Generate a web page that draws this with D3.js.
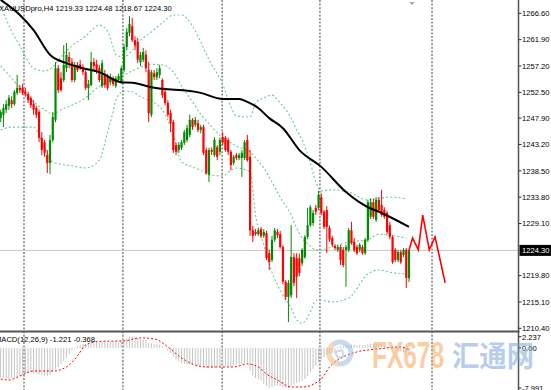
<!DOCTYPE html>
<html><head><meta charset="utf-8">
<script src="https://cdn.jsdelivr.net/npm/d3@7"></script>
<style>html,body{margin:0;padding:0;background:#fff;overflow:hidden}</style>
</head><body><svg id="c" width="551" height="390"></svg>
<script>
// ---------- DATA ----------
const titleText = "XAUUSDpro,H4  1219.33 1224.48 1218.67 1224.30";
const macdText = "MACD(12,26,9) -1.221 -0.368";
const open = [1247.9,1248.5,1249.4,1250.1,1251.1,1250.4,1252.4,1253.3,1253.3,1252.6,
 1252.2,1251.5,1250.4,1249.7,1249.0,1244.4,1243.6,1241.3,1239.9,1244.0,
 1247.6,1256.8,1255.0,1254.7,1256.8,1258.8,1257.9,1254.7,1257.4,1257.5,
 1256.8,1256.1,1253.3,1253.8,1257.9,1257.5,1256.8,1253.6,1255.6,1255.2,
 1254.3,1255.0,1253.6,1254.7,1254.3,1256.5,1260.6,1263.1,1264.3,1261.8,
 1261.5,1257.9,1258.3,1259.2,1256.5,1248.5,1255.9,1255.2,1255.6,1254.7,
 1252.6,1250.6,1248.8,1247.2,1243.1,1242.2,1242.6,1243.5,1244.0,1244.9,
 1247.6,1246.7,1247.0,1245.8,1246.3,1242.2,1237.8,1242.2,1241.3,1242.7,
 1241.9,1244.5,1244.4,1244.0,1241.9,1239.9,1241.3,1240.8,1240.8,1240.8,
 1244.0,1241.0,1227.9,1227.6,1227.2,1228.1,1226.9,1227.4,1223.8,1222.6,
 1226.2,1227.6,1227.2,1224.9,1218.7,1216.0,1216.3,1223.1,1222.9,1222.9,
 1222.0,1223.1,1226.7,1228.8,1229.2,1231.9,1231.9,1233.8,1231.2,1231.5,
 1228.3,1226.5,1225.1,1224.4,1224.9,1224.4,1224.4,1224.4,1227.9,1225.8,
 1224.9,1224.4,1224.9,1223.8,1226.2,1230.3,1232.9,1229.7,1233.3,1232.4,
 1231.5,1231.0,1228.8,1226.7,1224.4,1222.6,1224.0,1223.5,1224.4,1219.33];
const high = [1249.4,1250.4,1251.1,1252.0,1251.8,1252.9,1255.6,1253.8,1254.0,1253.3,
 1252.6,1251.8,1251.1,1250.1,1249.4,1245.4,1244.0,1242.2,1244.9,1249.0,
 1257.9,1257.4,1256.1,1260.9,1261.3,1259.7,1258.6,1257.9,1257.9,1258.3,
 1257.5,1256.5,1254.7,1259.7,1258.6,1258.3,1257.4,1258.3,1256.5,1255.8,
 1255.8,1255.4,1255.4,1255.8,1257.2,1261.1,1264.0,1266.1,1265.8,1262.5,
 1262.2,1259.7,1260.4,1260.0,1257.9,1256.5,1256.5,1256.8,1257.4,1255.0,
 1253.3,1251.1,1249.4,1247.6,1243.5,1243.6,1244.0,1245.8,1246.7,1248.5,
 1247.9,1248.1,1247.6,1246.7,1246.7,1242.6,1242.6,1242.7,1244.5,1243.1,
 1244.4,1245.4,1244.7,1244.4,1242.2,1241.3,1241.7,1241.7,1242.2,1244.0,
 1244.9,1242.2,1228.7,1228.1,1228.3,1228.5,1228.1,1227.8,1224.4,1226.9,
 1228.3,1228.1,1227.8,1225.3,1219.0,1219.0,1228.8,1223.8,1223.8,1223.7,
 1224.7,1227.0,1231.9,1232.4,1231.5,1232.4,1234.9,1234.5,1231.5,1232.2,
 1228.7,1226.9,1225.4,1225.3,1225.3,1224.9,1225.3,1228.3,1229.4,1226.5,
 1225.3,1225.6,1225.3,1226.5,1233.3,1233.6,1233.5,1233.8,1233.8,1235.1,
 1232.0,1231.3,1229.4,1227.0,1224.7,1224.4,1224.4,1224.7,1224.7,1224.48];
const low = [1247.2,1246.3,1248.8,1249.4,1249.7,1250.1,1252.0,1252.4,1252.0,1251.7,
 1250.6,1249.7,1248.5,1247.9,1243.6,1241.3,1241.0,1238.1,1237.9,1243.6,
 1247.2,1252.4,1252.6,1254.3,1256.1,1256.8,1254.3,1254.3,1256.1,1256.5,
 1255.6,1252.9,1251.1,1253.6,1256.5,1255.8,1254.3,1253.3,1253.3,1252.9,
 1253.8,1253.6,1253.3,1254.3,1254.0,1256.1,1260.0,1262.5,1261.5,1260.0,
 1257.7,1257.2,1257.9,1256.1,1247.2,1248.1,1254.7,1254.7,1255.0,1251.5,
 1250.2,1248.1,1245.4,1241.7,1241.3,1241.7,1242.2,1243.1,1243.6,1244.5,
 1245.8,1246.3,1245.4,1245.2,1241.3,1237.8,1236.5,1241.3,1241.0,1240.4,
 1241.3,1243.1,1241.9,1241.3,1238.6,1239.5,1240.4,1240.4,1237.4,1240.4,
 1240.1,1226.9,1225.8,1226.9,1226.9,1226.5,1226.5,1222.6,1220.8,1222.2,
 1225.8,1226.5,1224.6,1218.3,1215.4,1211.5,1215.8,1217.9,1215.8,1219.7,
 1221.5,1222.8,1226.3,1228.5,1228.7,1230.6,1231.5,1230.6,1228.1,1223.8,
 1225.8,1224.9,1224.4,1224.0,1221.7,1221.3,1217.8,1224.0,1225.3,1224.0,
 1223.5,1224.0,1223.5,1223.5,1225.8,1229.9,1229.9,1229.4,1231.2,1230.3,
 1229.9,1227.2,1226.3,1221.9,1222.2,1222.2,1221.9,1223.1,1217.6,1218.67];
const close = [1249.0,1249.7,1250.4,1251.5,1250.4,1252.6,1253.3,1252.9,1252.4,1252.2,
 1251.1,1250.2,1249.4,1248.5,1244.4,1242.2,1241.7,1239.9,1244.0,1248.1,
 1256.8,1252.9,1252.9,1257.4,1259.2,1257.9,1254.7,1257.0,1256.5,1256.8,
 1256.1,1253.3,1254.0,1257.9,1257.2,1256.5,1254.7,1257.7,1253.8,1253.3,
 1255.0,1254.0,1255.0,1255.4,1256.8,1260.6,1263.3,1264.7,1261.8,1260.9,
 1258.3,1259.2,1259.7,1256.8,1248.8,1256.1,1255.2,1256.1,1256.8,1252.0,
 1250.6,1248.5,1247.0,1242.2,1241.9,1243.1,1243.6,1245.4,1246.1,1247.6,
 1246.3,1247.6,1245.8,1246.3,1241.7,1238.1,1242.2,1241.9,1244.0,1241.0,
 1244.0,1243.6,1242.2,1241.9,1239.5,1241.0,1240.8,1241.3,1241.7,1243.6,
 1240.4,1227.9,1226.9,1227.2,1227.9,1226.9,1227.6,1222.9,1222.2,1226.2,
 1227.9,1227.0,1224.9,1218.7,1216.0,1218.5,1223.1,1218.5,1219.6,1220.3,
 1224.4,1226.7,1228.8,1232.0,1231.0,1231.2,1234.2,1231.0,1228.5,1228.5,
 1226.2,1225.3,1224.7,1224.9,1222.6,1221.7,1224.9,1227.9,1225.6,1224.4,
 1223.8,1225.3,1223.8,1226.2,1232.9,1232.9,1230.3,1233.3,1231.5,1230.6,
 1230.3,1227.6,1226.7,1222.2,1222.6,1224.0,1222.2,1224.4,1219.4,1224.30];

const maIdx = [0,7,12,18,24,30,36,44,48,55,73,81,87,90,94,98,103,109,117,126,134,138,149];
const maVal = [1269.0,1266.3,1263.6,1259.2,1257.7,1256.8,1256.1,1254.3,1254.2,1253.4,1252.4,1251.3,1251.3,1250.8,1249.7,1247.9,1246.1,1242.2,1239.2,1234.7,1232.0,1231.2,1228.5];

const bbIdx = [0,4,7,12,16,19,22,26,31,36,39,41,42,45,48,51,54,59,63,66,70,73,76,81,84,86,91,93,96,99,102,106,108,110,113,115,117,121,127,134,138,142,148];
const bbUpper = [1267.9,1263.4,1260.8,1256.8,1256.3,1257.0,1258.8,1260.8,1262.5,1264.5,
 1263.4,1260.6,1259.2,1258.8,1260.0,1261.8,1262.9,1264.9,1266.3,1266.3,
 1264.3,1261.5,1258.3,1254.0,1249.9,1248.3,1248.1,1250.6,1251.5,1252.0,
 1250.6,1247.9,1245.8,1244.0,1239.9,1236.5,1234.9,1235.1,1234.7,1233.3,
 1233.6,1233.8,1233.5];
const bbMiddle = [1257.2,1255.0,1253.3,1250.8,1249.4,1248.6,1249.4,1250.2,1251.5,1253.6,
 1254.3,1254.7,1255.0,1255.6,1256.3,1257.0,1257.5,1257.4,1256.1,1253.6,
 1250.8,1248.6,1246.9,1244.4,1243.5,1242.9,1241.9,1240.8,1239.0,1236.5,
 1233.8,1230.6,1228.3,1226.5,1225.1,1224.4,1224.4,1224.9,1225.8,1226.2,
 1227.2,1227.0,1226.5];
const bbLower = [1245.8,1246.3,1246.3,1246.3,1242.6,1240.1,1239.7,1239.4,1239.0,1240.4,
 1245.4,1249.0,1251.1,1252.7,1252.6,1251.7,1251.1,1249.4,1244.9,1240.1,
 1239.2,1238.6,1237.8,1237.6,1238.6,1239.0,1238.3,1230.6,1225.3,1220.4,
 1217.2,1214.0,1211.9,1211.3,1213.3,1215.4,1215.4,1215.1,1215.8,1220.1,
 1220.8,1220.4,1220.1];

const fcIdx = [149,150.3,152.4,154,156.4,158.5,162.2];
const fcVal = [1224.3,1226.5,1224.4,1230.6,1224.4,1226.7,1218.5];

const macdHist = [-5.8,-6.0,-6.1,-6.2,-6.0,-5.9,-5.7,-5.6,
 -5.4,-5.2,-5.0,-5.0,-5.1,-5.2,-5.3,-5.4,-5.5,-5.6,-5.4,
 -4.8,-4.2,-3.8,-3.2,-2.6,-2.0,
 -1.2,-0.6,-0.2,
 0.4,0.6,0.8,0.6,0.7,1.0,
 1.2,1.3,1.1,1.2,1.3,1.1,1.2,1.2,1.3,1.2,1.4,1.6,1.9,2.2,
 2.3,2.2,2.0,1.8,1.7,1.6,
 1.0,0.9,0.8,0.7,0.6,0.3,0.0,
 -0.5,-1.0,-1.7,-2.3,-2.7,-3.0,
 -3.2,-3.3,-3.3,-3.4,-3.4,-3.5,-3.5,-3.6,-4.0,-3.9,-3.9,-3.8,-3.9,-3.7,-3.7,-3.6,-3.6,-3.8,
 -3.5,-3.4,-3.3,-3.2,-3.0,-3.1,-4.5,
 -5.5,-6.0,-6.3,-6.5,-7.2,-7.6,-7.9,-7.8,-7.6,
 -7.5,-7.6,-7.8,-8.0,-8.0,-7.6,-7.3,-7.0,-6.8,-6.6,
 -6.2,-5.6,-4.9,-4.2,-3.6,-2.9,-2.3,
 -1.8,-1.3,-1.2,-1.0,-0.6,
 0.2,0.4,0.5,0.6,0.6,0.7,0.6,0.5,0.6,0.5,0.6,0.8,
 0.9,0.8,0.7,0.7,0.6,0.4,0.2,0.0,-0.2,-0.4,-0.5,-0.7,-0.9,-1.0,-1.221];
const sigIdx = [0,3,7,12,19,24,28,31,36,45,51,56,61,65,70,75,85,90,94,97,101,106,110,117,120,125,130,138,146,149];
const sigVal = [-6.2,-6.4,-5.6,-4.6,-4.6,-3.8,-1.6,0.6,1.3,1.4,2.0,1.8,0.2,-1.6,-3.2,-3.8,-3.8,-3.2,-3.8,-5.2,-6.4,-7.8,-7.8,-6.2,-3.8,-1.8,-0.8,-0.2,0.2,-0.368];

const priceTicks = [1266.60,1261.90,1257.20,1252.50,1247.90,1243.20,1238.50,1233.80,1229.10,1219.80,1215.10,1210.40];
const currentPrice = 1224.30;
const macdTicks = [2.237, 0, -7.991];
const macdTickLabels = ["2.237","0.00","-7.991"];
const gridIdx = [8.5,44.6,80.8,116.5,157.4];

// ---------- LAYOUT ----------
const svg = d3.select("#c");
const axisX = 518.5, sepY = 331.5;
const font = "'Liberation Sans', Arial, sans-serif";
const xs = d3.scaleLinear().domain([0,149]).range([0.7,409]);
const ys = d3.scaleLinear().domain([1210.4,1266.6]).range([328.3,13.3]);
const ym = d3.scaleLinear().domain([-7.991,2.237]).range([388,336.7]);

svg.append("rect").attr("width",551).attr("height",390).attr("fill","#fff");
const defs = svg.append("defs");
defs.append("clipPath").attr("id","mainClip").append("rect").attr("x",0).attr("y",0).attr("width",axisX-0.5).attr("height",sepY-1);
defs.append("clipPath").attr("id","subClip").append("rect").attr("x",0).attr("y",sepY+1).attr("width",axisX-0.5).attr("height",390-sepY);

// grid
svg.append("g").selectAll("line").data(gridIdx).join("line")
  .attr("x1",d=>xs(d)).attr("x2",d=>xs(d)).attr("y1",0).attr("y2",390)
  .attr("stroke","#606060").attr("stroke-width",1.2).attr("stroke-dasharray","2,1.6");

const main = svg.append("g").attr("clip-path","url(#mainClip)");
// current price line
main.append("line").attr("x1",0).attr("x2",axisX).attr("y1",ys(currentPrice)).attr("y2",ys(currentPrice))
  .attr("stroke","#c8c8c8").attr("stroke-width",1);

// bollinger bands
const bandLine = arr => d3.line().x((d,i)=>xs(bbIdx[i])).y(d=>ys(d)).curve(d3.curveMonotoneX)(arr);
[bbUpper,bbMiddle,bbLower].forEach(b=>{
  main.append("path").attr("d",bandLine(b)).attr("fill","none")
    .attr("stroke","#6cc990").attr("stroke-width",1.1).attr("stroke-dasharray","2,2.2");
});

// candles
const idx = d3.range(open.length);
const cg = main.append("g");
idx.forEach(i=>{
  const up = close[i] >= open[i];
  const col = up ? "#008c00" : "#ff0000";
  const x = xs(i);
  cg.append("line").attr("x1",x).attr("x2",x).attr("y1",ys(high[i])).attr("y2",ys(low[i]))
    .attr("stroke",col).attr("stroke-width",1);
  const y0 = ys(Math.max(open[i],close[i])), y1 = ys(Math.min(open[i],close[i]));
  cg.append("rect").attr("x",x-1.1).attr("width",2.2).attr("y",y0).attr("height",Math.max(1,y1-y0)).attr("fill",col);
});

// moving average
main.append("path").attr("d", d3.line().x((d,i)=>xs(maIdx[i])).y(d=>ys(d)).curve(d3.curveMonotoneX)(maVal))
  .attr("fill","none").attr("stroke","#000").attr("stroke-width",2);

// forecast
main.append("path").attr("d", d3.line().x((d,i)=>xs(fcIdx[i])).y(d=>ys(d))(fcVal))
  .attr("fill","none").attr("stroke","#ff0000").attr("stroke-width",1.6);

// title
svg.append("text").attr("x",-1).attr("y",10.5).attr("font-family",font).attr("font-size",7.6).attr("fill","#000").text(titleText);
// small marker top right
svg.append("path").attr("d","M409,2 L415,2 L412,5 Z").attr("fill","#aaa");

// MACD panel
const sub = svg.append("g").attr("clip-path","url(#subClip)");
sub.append("g").selectAll("line").data(macdHist).join("line")
  .attr("x1",(d,i)=>xs(i)).attr("x2",(d,i)=>xs(i)).attr("y1",ym(0)).attr("y2",d=>ym(d))
  .attr("stroke","#c4c4c4").attr("stroke-width",1);
sub.append("path").attr("d", d3.line().x((d,i)=>xs(sigIdx[i])).y(d=>ym(d)).curve(d3.curveMonotoneX)(sigVal))
  .attr("fill","none").attr("stroke","#ff0000").attr("stroke-width",1).attr("stroke-dasharray","2,2");
svg.append("text").attr("x",-5).attr("y",342).attr("font-family",font).attr("font-size",7.6).attr("fill","#000").text(macdText);

// separator and axis
svg.append("line").attr("x1",0).attr("x2",axisX+1).attr("y1",sepY).attr("y2",sepY).attr("stroke","#555").attr("stroke-width",2);
svg.append("line").attr("x1",axisX).attr("x2",axisX).attr("y1",0).attr("y2",390).attr("stroke","#555").attr("stroke-width",1.5);

// price ticks
const pg = svg.append("g");
priceTicks.forEach(p=>{
  pg.append("line").attr("x1",axisX).attr("x2",axisX+3).attr("y1",ys(p)).attr("y2",ys(p)).attr("stroke","#333");
  pg.append("text").attr("x",522).attr("y",ys(p)+2.8).attr("font-family",font).attr("font-size",7.6).attr("fill","#000").text(d3.format(".2f")(p));
});
// current price box
pg.append("rect").attr("x",519.5).attr("y",ys(currentPrice)-5.5).attr("width",32).attr("height",11).attr("fill","#000");
pg.append("text").attr("x",522).attr("y",ys(currentPrice)+2.8).attr("font-family",font).attr("font-size",7.6).attr("fill","#fff").text(d3.format(".2f")(currentPrice));

// macd ticks
macdTicks.forEach((v,k)=>{
  pg.append("line").attr("x1",axisX).attr("x2",axisX+3).attr("y1",ym(v)).attr("y2",ym(v)).attr("stroke","#333");
  pg.append("text").attr("x",522).attr("y",ym(v)+2.8).attr("font-family",font).attr("font-size",7.6).attr("fill","#000").text(macdTickLabels[k]);
});

// watermark
const wm = svg.append("g").attr("opacity",0.55);
wm.append("circle").attr("cx",340).attr("cy",353).attr("r",11).attr("fill","none").attr("stroke","#9dbbe6").attr("stroke-width",5);
wm.append("path").attr("d",d3.arc().innerRadius(8.5).outerRadius(13.5).startAngle(3.3).endAngle(5.6)()).attr("transform","translate(340,353)").attr("fill","#f7b676");
wm.append("path").attr("d","M335,352 L342,350 L344,356 L338,358 Z").attr("fill","none").attr("stroke","#9dbbe6").attr("stroke-width",2);
wm.append("text").attr("x",372).attr("y",368).attr("font-family",font).attr("font-weight","bold").attr("font-size",36)
  .attr("textLength",72).attr("lengthAdjust","spacingAndGlyphs").attr("fill","#f6a55a").text("FX678");
wm.append("text").attr("x",452).attr("y",367).attr("font-family","'Noto Sans CJK SC', sans-serif").attr("font-weight","bold").attr("font-size",29)
  .attr("textLength",82).attr("lengthAdjust","spacingAndGlyphs").attr("fill","#7fa6db").text("汇通网");
</script></body></html>
